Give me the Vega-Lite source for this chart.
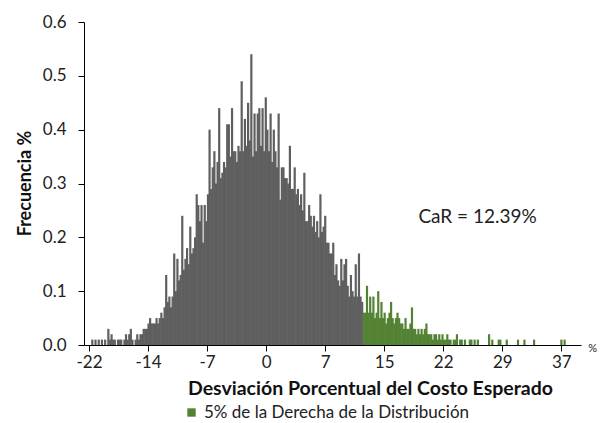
{
  "$schema": "https://vega.github.io/schema/vega-lite/v6.json",
  "autosize": "none",
  "width": 497,
  "height": 323,
  "padding": {"left": 84, "top": 22, "right": 25, "bottom": 78},
  "config": {"view": {"stroke": null}, "font": "Lato"},
  "datasets": {
    "h": [
      {"x":-21.4,"y":0.01},{"x":-21.0,"y":0.01},{"x":-20.6,"y":0.01},{"x":-20.2,"y":0.01},{"x":-19.8,"y":0.01},
      {"x":-19.4,"y":0.03},{"x":-19.2,"y":0.01},{"x":-19.0,"y":0.02},{"x":-18.8,"y":0.01},{"x":-18.6,"y":0.01},
      {"x":-18.2,"y":0.01},{"x":-18.0,"y":0.01},{"x":-17.8,"y":0.01},{"x":-17.4,"y":0.01},{"x":-17.2,"y":0.02},
      {"x":-17.0,"y":0.01},{"x":-16.8,"y":0.02},{"x":-16.6,"y":0.03},{"x":-16.4,"y":0.01},{"x":-16.0,"y":0.01},
      {"x":-15.8,"y":0.02},{"x":-15.6,"y":0.01},{"x":-15.4,"y":0.02},{"x":-15.2,"y":0.02},{"x":-15.0,"y":0.03},
      {"x":-14.8,"y":0.03},{"x":-14.6,"y":0.03},{"x":-14.4,"y":0.04},{"x":-14.2,"y":0.05},{"x":-14.0,"y":0.04},
      {"x":-13.8,"y":0.04},{"x":-13.6,"y":0.04},{"x":-13.4,"y":0.05},{"x":-13.2,"y":0.04},{"x":-13.0,"y":0.05},
      {"x":-12.8,"y":0.06},{"x":-12.6,"y":0.05},{"x":-12.4,"y":0.07},{"x":-12.2,"y":0.13},{"x":-12.0,"y":0.08},
      {"x":-11.8,"y":0.09},{"x":-11.6,"y":0.07},{"x":-11.4,"y":0.09},{"x":-11.2,"y":0.17},{"x":-11.0,"y":0.10},
      {"x":-10.8,"y":0.16},{"x":-10.6,"y":0.12},{"x":-10.4,"y":0.13},{"x":-10.2,"y":0.24},{"x":-10.0,"y":0.14},
      {"x":-9.8,"y":0.16},{"x":-9.6,"y":0.18},{"x":-9.4,"y":0.15},{"x":-9.2,"y":0.22},{"x":-9.0,"y":0.17},
      {"x":-8.8,"y":0.18},{"x":-8.6,"y":0.20},{"x":-8.4,"y":0.28},{"x":-8.2,"y":0.26},{"x":-8.0,"y":0.23},
      {"x":-7.8,"y":0.26},{"x":-7.6,"y":0.19},{"x":-7.4,"y":0.26},{"x":-7.2,"y":0.23},{"x":-7.0,"y":0.28},
      {"x":-6.8,"y":0.40},{"x":-6.6,"y":0.29},{"x":-6.4,"y":0.33},{"x":-6.2,"y":0.36},{"x":-6.0,"y":0.30},
      {"x":-5.8,"y":0.34},{"x":-5.6,"y":0.44},{"x":-5.4,"y":0.31},{"x":-5.2,"y":0.32},{"x":-5.0,"y":0.34},
      {"x":-4.8,"y":0.33},{"x":-4.6,"y":0.41},{"x":-4.4,"y":0.41},{"x":-4.2,"y":0.35},{"x":-4.0,"y":0.44},
      {"x":-3.8,"y":0.36},{"x":-3.6,"y":0.36},{"x":-3.4,"y":0.34},{"x":-3.2,"y":0.37},{"x":-3.0,"y":0.36},
      {"x":-2.8,"y":0.49},{"x":-2.6,"y":0.36},{"x":-2.4,"y":0.42},{"x":-2.2,"y":0.37},{"x":-2.0,"y":0.45},
      {"x":-1.8,"y":0.38},{"x":-1.6,"y":0.54},{"x":-1.4,"y":0.35},{"x":-1.2,"y":0.43},{"x":-1.0,"y":0.36},
      {"x":-0.8,"y":0.43},{"x":-0.6,"y":0.44},{"x":-0.4,"y":0.37},{"x":-0.2,"y":0.44},{"x":0.0,"y":0.36},
      {"x":0.2,"y":0.46},{"x":0.4,"y":0.40},{"x":0.6,"y":0.36},{"x":0.8,"y":0.43},{"x":1.0,"y":0.34},
      {"x":1.2,"y":0.40},{"x":1.4,"y":0.36},{"x":1.6,"y":0.33},{"x":1.8,"y":0.43},{"x":2.0,"y":0.27},
      {"x":2.2,"y":0.33},{"x":2.4,"y":0.33},{"x":2.6,"y":0.31},{"x":2.8,"y":0.31},{"x":3.0,"y":0.30},
      {"x":3.2,"y":0.37},{"x":3.4,"y":0.29},{"x":3.6,"y":0.29},{"x":3.8,"y":0.33},{"x":4.0,"y":0.28},
      {"x":4.2,"y":0.29},{"x":4.4,"y":0.26},{"x":4.6,"y":0.28},{"x":4.8,"y":0.25},{"x":5.0,"y":0.32},
      {"x":5.2,"y":0.23},{"x":5.4,"y":0.23},{"x":5.6,"y":0.26},{"x":5.8,"y":0.24},{"x":6.0,"y":0.22},
      {"x":6.2,"y":0.24},{"x":6.4,"y":0.21},{"x":6.6,"y":0.23},{"x":6.8,"y":0.20},{"x":7.0,"y":0.28},
      {"x":7.2,"y":0.21},{"x":7.4,"y":0.22},{"x":7.6,"y":0.24},{"x":7.8,"y":0.19},{"x":8.0,"y":0.19},
      {"x":8.2,"y":0.17},{"x":8.4,"y":0.17},{"x":8.6,"y":0.19},{"x":8.8,"y":0.13},{"x":9.0,"y":0.15},
      {"x":9.2,"y":0.12},{"x":9.4,"y":0.11},{"x":9.6,"y":0.16},{"x":9.8,"y":0.12},{"x":10.0,"y":0.15},
      {"x":10.2,"y":0.16},{"x":10.4,"y":0.11},{"x":10.6,"y":0.09},{"x":10.8,"y":0.13},{"x":11.0,"y":0.10},
      {"x":11.2,"y":0.09},{"x":11.4,"y":0.15},{"x":11.6,"y":0.09},{"x":11.8,"y":0.17},{"x":12.0,"y":0.09},
      {"x":12.2,"y":0.08},
      {"x":12.4,"y":0.06},{"x":12.6,"y":0.06},{"x":12.8,"y":0.11},{"x":13.0,"y":0.06},{"x":13.2,"y":0.09},
      {"x":13.4,"y":0.06},{"x":13.6,"y":0.09},{"x":13.8,"y":0.05},{"x":14.0,"y":0.06},{"x":14.2,"y":0.10},
      {"x":14.4,"y":0.05},{"x":14.6,"y":0.08},{"x":14.8,"y":0.05},{"x":15.0,"y":0.06},{"x":15.2,"y":0.04},
      {"x":15.4,"y":0.05},{"x":15.6,"y":0.06},{"x":15.8,"y":0.08},{"x":16.0,"y":0.05},{"x":16.2,"y":0.04},
      {"x":16.4,"y":0.05},{"x":16.6,"y":0.06},{"x":16.8,"y":0.05},{"x":17.0,"y":0.04},{"x":17.2,"y":0.04},
      {"x":17.4,"y":0.03},{"x":17.6,"y":0.05},{"x":17.8,"y":0.03},{"x":18.0,"y":0.03},{"x":18.2,"y":0.04},
      {"x":18.4,"y":0.07},{"x":18.6,"y":0.03},{"x":18.8,"y":0.03},{"x":19.0,"y":0.02},{"x":19.2,"y":0.03},
      {"x":19.4,"y":0.02},{"x":19.6,"y":0.03},{"x":19.8,"y":0.02},{"x":20.0,"y":0.03},{"x":20.2,"y":0.04},
      {"x":20.4,"y":0.02},{"x":20.6,"y":0.02},{"x":20.8,"y":0.02},{"x":21.0,"y":0.01},{"x":21.2,"y":0.02},
      {"x":21.4,"y":0.02},{"x":21.6,"y":0.01},{"x":21.8,"y":0.02},{"x":22.0,"y":0.01},{"x":22.2,"y":0.02},
      {"x":22.4,"y":0.01},{"x":22.6,"y":0.01},{"x":22.8,"y":0.02},{"x":23.0,"y":0.01},{"x":23.2,"y":0.01},
      {"x":23.6,"y":0.01},{"x":23.8,"y":0.01},{"x":24.0,"y":0.02},{"x":24.4,"y":0.01},{"x":24.6,"y":0.01},
      {"x":25.0,"y":0.01},{"x":25.6,"y":0.01},{"x":25.8,"y":0.01},{"x":26.2,"y":0.01},{"x":26.6,"y":0.01},
      {"x":28.0,"y":0.02},{"x":28.4,"y":0.01},{"x":29.2,"y":0.01},{"x":29.4,"y":0.01},{"x":30.2,"y":0.01},
      {"x":31.6,"y":0.01},{"x":32.4,"y":0.01},{"x":33.6,"y":0.01},{"x":37.0,"y":0.01},{"x":37.4,"y":0.01}
    ],
    "notes": [
      {"label": "CaR = 12.39%", "x": 19.2, "y": 0.238}
    ]
  },
  "layer": [
    {
      "data": {"name": "h"},
      "transform": [{"filter": "datum.x < 12.39"}],
      "mark": {"type": "bar", "size": 2.2, "color": "#5f5f5f"},
      "encoding": {
        "x": {
          "field": "x", "type": "quantitative",
          "scale": {"domain": [-21.81, 38.82], "nice": false, "zero": false},
          "axis": {
            "title": "Desviación Porcentual del Costo Esperado",
            "titleFont": "Lato", "titleFontSize": 19.5, "titleFontWeight": "bold", "titleColor": "#111",
            "titleX": 286, "titleY": 43, "titleAlign": "center", "titleBaseline": "middle",
            "values": [-21.81, -14.46, -7.11, 0.24, 7.59, 14.94, 22.29, 29.64, 36.99],
            "labelExpr": "['-22','-14','-7','0','7','15','22','29','37'][round((datum.value + 21.81) / 7.35)]",
            "labelFont": "Lato", "labelFontSize": 17, "labelColor": "#222", "labelPadding": 3,
            "tickSize": 6, "tickColor": "#000", "domainColor": "#000", "grid": false, "labelFlush": false
          }
        },
        "y": {
          "field": "y", "type": "quantitative",
          "scale": {"domain": [0, 0.6], "nice": false},
          "axis": {
            "title": "Frecuencia  %",
            "titleFont": "Lato", "titleFontSize": 18, "titleFontWeight": "bold", "titleColor": "#111",
            "titleX": -59, "titleY": 161, "titleAlign": "center", "titleBaseline": "middle", "titleAngle": 270,
            "values": [0, 0.1, 0.2, 0.3, 0.4, 0.5, 0.6], "format": ".1f",
            "labelFont": "Lato", "labelFontSize": 17, "labelColor": "#222", "labelPadding": 12,
            "tickSize": 6, "tickColor": "#000", "domainColor": "#000", "grid": false
          }
        }
      }
    },
    {
      "data": {"name": "h"},
      "transform": [{"filter": "datum.x >= 12.39"}],
      "mark": {"type": "bar", "size": 2.2},
      "encoding": {
        "x": {"field": "x", "type": "quantitative"},
        "y": {"field": "y", "type": "quantitative"},
        "color": {
          "datum": "5% de la Derecha de la Distribución",
          "scale": {"range": ["#548235"]},
          "legend": {
            "title": null, "orient": "none", "legendX": 99, "legendY": 382,
            "symbolType": "square", "symbolSize": 70, "symbolStrokeWidth": 0,
            "labelFont": "Lato", "labelFontSize": 17, "labelColor": "#222", "labelOffset": 4, "labelLimit": 0
          }
        }
      }
    },
    {
      "mark": {"type": "rule", "color": "#6b9a4a", "strokeWidth": 1.5, "strokeDash": [4, 3]},
      "encoding": {"x": {"datum": 12.39}, "y": {"datum": 0}, "y2": {"datum": 0.605}}
    },
    {
      "data": {"name": "notes"},
      "mark": {"type": "text", "align": "left", "baseline": "middle", "font": "Lato", "fontSize": 19, "color": "#222"},
      "encoding": {
        "x": {"field": "x", "type": "quantitative"},
        "y": {"field": "y", "type": "quantitative"},
        "text": {"field": "label"}
      }
    },
    {
      "data": {"values": [{"label": "%", "x": 40.9, "y": -0.008}]},
      "mark": {"type": "text", "align": "center", "baseline": "middle", "font": "Lato", "fontSize": 11, "color": "#222"},
      "encoding": {
        "x": {"field": "x", "type": "quantitative"},
        "y": {"field": "y", "type": "quantitative"},
        "text": {"field": "label"}
      }
    }
  ]
}
